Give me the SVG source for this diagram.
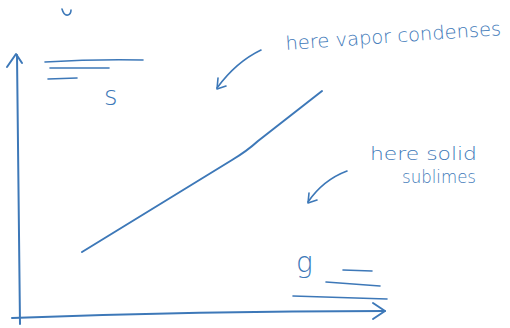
<svg xmlns="http://www.w3.org/2000/svg" width="510" height="328" viewBox="0 0 510 328">
<style>
.ink{fill:none;stroke:#3d78b8;stroke-width:2;stroke-linecap:round;stroke-linejoin:round}
.thin{stroke-width:1.6}
.t{fill:#3d78b8;font-family:"DejaVu Sans","Liberation Sans",sans-serif;font-weight:300}
</style>
<rect width="510" height="328" fill="#ffffff"/>
<g id="axes">
<path class="ink" d="M20,324 Q19,200 17,55"/>
<path class="ink" d="M7,67 L16,54 L22,63"/>
<path class="ink" d="M12,318 Q200,311 385,311"/>
<path class="ink" d="M373,303 L385,311 L373,319"/>
</g>
<g id="partial-mark"><path class="ink thin" d="M62,9 Q64,16 68,15 Q71,14 71,10"/></g>
<g id="s-region">
<path class="ink thin" d="M45,62 Q95,59 143,60"/>
<path class="ink thin" d="M50,68 L109,68"/>
<path class="ink thin" d="M48,79 L77,78"/>
<text class="t" x="104" y="105" font-size="26">s</text>
</g>
<g id="g-region">
<text class="t" x="296" y="272" font-size="28">g</text>
<path class="ink thin" d="M343,270 L372,271"/>
<path class="ink thin" d="M326,282 L380,286"/>
<path class="ink thin" d="M293,296 L387,299"/>
</g>
<g id="boundary"><path class="ink" d="M82,252 L232,160 Q247,151 258,141 L322,91"/></g>
<g id="label-vapor">
<text class="t" x="286" y="50" font-size="19" textLength="216" lengthAdjust="spacingAndGlyphs" transform="rotate(-4 286 50)">here vapor condenses</text>
</g>
<g id="label-solid">
<text class="t" x="370" y="160" font-size="18" textLength="107" lengthAdjust="spacingAndGlyphs">here solid</text>
<text class="t" x="402" y="183" font-size="18" textLength="74" lengthAdjust="spacingAndGlyphs">sublimes</text>
</g>
<g id="connectors">
<path class="ink thin" d="M261,50 Q236,62 217,88"/>
<path class="ink thin" d="M218,78 L217,89 L226,86"/>
<path class="ink thin" d="M347,171 Q323,180 308,202"/>
<path class="ink thin" d="M309,193 L308,203 L317,200"/>
</g>
</svg>
